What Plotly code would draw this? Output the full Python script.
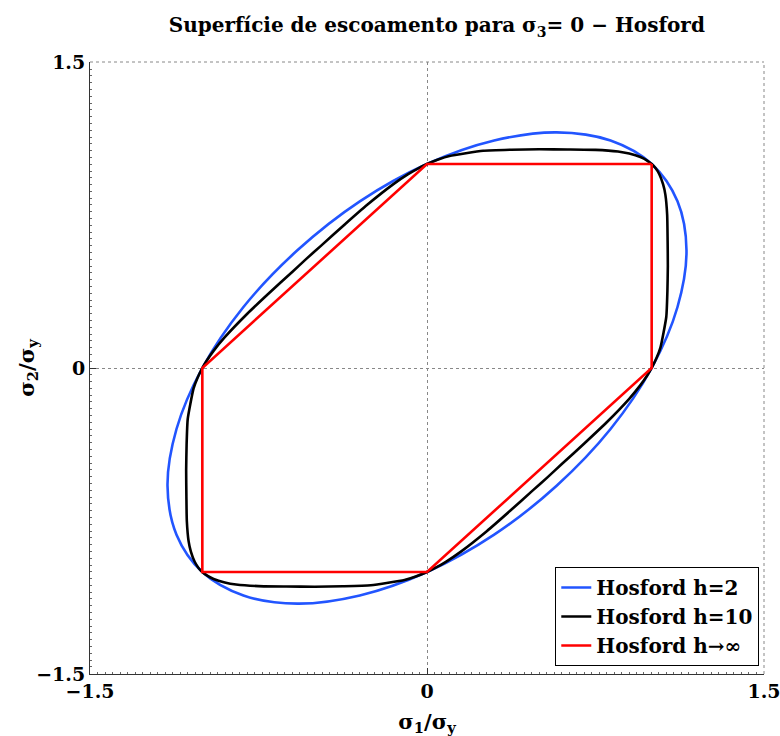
import plotly.graph_objects as go

# Hosford h=2
h2_s1 = [1.0, 1.115, 1.155, 1.115, 1.0, 0.817, 0.577, 0.299, 0.0, -0.299, -0.577, -0.817,
         -1.0, -1.115, -1.155, -1.115, -1.0, -0.817, -0.577, -0.299, 0.0, 0.299, 0.577, 0.817, 1.0]
h2_s2 = [1.0, 0.817, 0.577, 0.299, 0.0, -0.299, -0.577, -0.817, -1.0, -1.115, -1.155, -1.115,
         -1.0, -0.817, -0.577, -0.299, 0.0, 0.299, 0.577, 0.817, 1.0, 1.115, 1.155, 1.115, 1.0]

# Hosford h=10
h10_s1 = [0.0, 0.05, 0.1, 0.25, 0.375, 0.5, 0.625, 0.75, 0.85, 0.9, 0.95, 0.98, 1.0,
          1.017, 1.034, 1.051, 1.061, 1.069, 1.071, 1.072, 1.070, 1.065, 1.039, 1.022, 1.0,
          0.98, 0.95, 0.9, 0.8, 0.7, 0.6, 0.536, 0.471, 0.370, 0.266, 0.151, 0.084, 0.037, 0.0,
          -0.05, -0.1, -0.25, -0.375, -0.5, -0.625, -0.75, -0.85, -0.9, -0.95, -0.98, -1.0,
          -1.017, -1.034, -1.051, -1.061, -1.069, -1.071, -1.072, -1.070, -1.065, -1.039, -1.022, -1.0,
          -0.98, -0.95, -0.9, -0.8, -0.7, -0.6, -0.536, -0.471, -0.370, -0.266, -0.151, -0.084, -0.037, 0.0]
h10_s2 = [1.0, 1.022, 1.039, 1.065, 1.070, 1.072, 1.071, 1.069, 1.061, 1.051, 1.034, 1.017, 1.0,
          0.98, 0.95, 0.9, 0.85, 0.75, 0.625, 0.5, 0.375, 0.25, 0.1, 0.05, 0.0,
          -0.037, -0.084, -0.151, -0.266, -0.370, -0.471, -0.536, -0.6, -0.7, -0.8, -0.9, -0.95, -0.98, -1.0,
          -1.022, -1.039, -1.065, -1.070, -1.072, -1.071, -1.069, -1.061, -1.051, -1.034, -1.017, -1.0,
          -0.98, -0.95, -0.9, -0.85, -0.75, -0.625, -0.5, -0.375, -0.25, -0.1, -0.05, 0.0,
          0.037, 0.084, 0.151, 0.266, 0.370, 0.471, 0.536, 0.6, 0.7, 0.8, 0.9, 0.95, 0.98, 1.0]

# Hosford h -> infinity (Tresca)
hinf_s1 = [1, 1, 0, -1, -1, 0, 1]
hinf_s2 = [1, 0, -1, -1, 0, 1, 1]

tick_vals = [-1.5, 0, 1.5]
tick_text = ["<b>\u22121.5</b>", "<b>0</b>", "<b>1.5</b>"]

FONT = "DejaVu Serif"

fig = go.Figure()
fig.add_trace(go.Scatter(x=h2_s1, y=h2_s2, mode="lines", name="<b>Hosford h=2</b>",
                         line=dict(color="#2255ff", width=2.6, shape="spline", smoothing=1.0)))
fig.add_trace(go.Scatter(x=h10_s1, y=h10_s2, mode="lines", name="<b>Hosford h=10</b>",
                         line=dict(color="black", width=2.6, shape="spline", smoothing=0.5)))
fig.add_trace(go.Scatter(x=hinf_s1, y=hinf_s2, mode="lines", name="<b>Hosford h\u2192\u221e</b>",
                         line=dict(color="#ff0000", width=2.6)))

axis_common = dict(
    range=[-1.5, 1.5], tickvals=tick_vals, ticktext=tick_text,
    showgrid=True, gridcolor="#888888", griddash="dot", gridwidth=1,
    zeroline=False, showline=True, linecolor="#333333", linewidth=1,
    ticks="inside", ticklen=6, tickcolor="#333333",
    minor=dict(dtick=0.0333, ticks="inside", ticklen=2, tickcolor="#666666", showgrid=False),
    tickfont=dict(family=FONT, size=19, color="black"),
    ticklabeloverflow="allow",
    automargin=False,
    mirror=False,
)

fig.update_layout(
    width=780, height=736,
    margin=dict(l=90, r=16, t=62, b=62),
    paper_bgcolor="white", plot_bgcolor="white",
    title=dict(text="<b>Superfície de escoamento para σ<sub>3</sub>= 0 \u2212 Hosford</b>",
               x=0.56, xanchor="center", y=0.975, yanchor="top",
               font=dict(family=FONT, size=20, color="black")),
    xaxis=dict(axis_common, title=dict(text="<b>σ<sub>1</sub>/σ<sub>y</sub></b>",
                                       font=dict(family=FONT, size=21, color="black"))),
    yaxis=dict(axis_common),
    annotations=[
        dict(text="<b>σ<sub>2</sub>/σ<sub>y</sub></b>", xref="paper", yref="paper",
             x=-0.094, y=0.5, xanchor="center", yanchor="middle", textangle=-90,
             showarrow=False, font=dict(family=FONT, size=21, color="black")),
    ],
    legend=dict(x=0.993, xanchor="right", y=0.013, yanchor="bottom",
                bgcolor="white", bordercolor="black", borderwidth=1,
                font=dict(family=FONT, size=20, color="black"), tracegroupgap=0),
    showlegend=True,
    shapes=[
        dict(type="line", xref="paper", yref="paper", x0=0, x1=1, y0=1, y1=1,
             line=dict(color="#888888", width=1, dash="dot"), layer="below"),
        dict(type="line", xref="paper", yref="paper", x0=1, x1=1, y0=0, y1=1,
             line=dict(color="#888888", width=1, dash="dot"), layer="below"),
    ],
)

fig.write_html("out.html")
